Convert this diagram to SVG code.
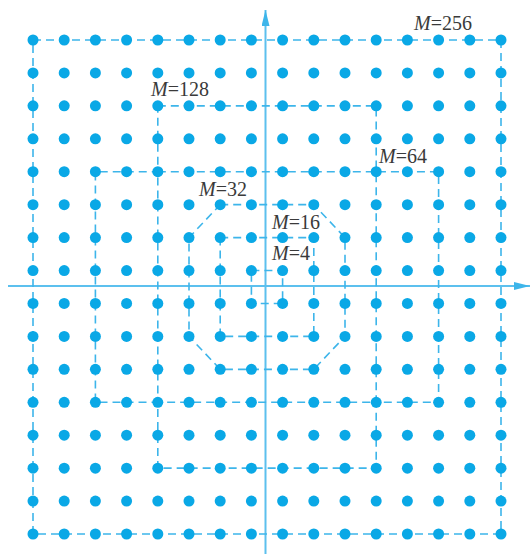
<svg xmlns="http://www.w3.org/2000/svg" xmlns:xlink="http://www.w3.org/1999/xlink" width="531" height="554" viewBox="0 0 531 554">
<style>
.dot{fill:#0aa8e6}
.bnd{fill:none;stroke:#3db5ea;stroke-width:1.6;stroke-dasharray:8 5}
.axis{stroke:#5cc0ee;stroke-width:2;fill:none}
.lbl{font-family:"Liberation Serif","Times New Roman",serif;font-size:20px;fill:#3a3a3a}
.it{font-style:italic}
</style>
<defs>
<marker id="arr" viewBox="0 0 16 8" refX="16" refY="4" markerWidth="16" markerHeight="8" markerUnits="userSpaceOnUse" orient="auto">
<path d="M0,0 L16,4 L0,8 Z" fill="#3db5ea"/>
</marker>
<g id="row">
<circle class="dot" cx="33" cy="0" r="5.5"/>
<circle class="dot" cx="64.2" cy="0" r="5.5"/>
<circle class="dot" cx="95.4" cy="0" r="5.5"/>
<circle class="dot" cx="126.6" cy="0" r="5.5"/>
<circle class="dot" cx="157.8" cy="0" r="5.5"/>
<circle class="dot" cx="189" cy="0" r="5.5"/>
<circle class="dot" cx="220.2" cy="0" r="5.5"/>
<circle class="dot" cx="251.4" cy="0" r="5.5"/>
<circle class="dot" cx="282.6" cy="0" r="5.5"/>
<circle class="dot" cx="313.8" cy="0" r="5.5"/>
<circle class="dot" cx="345" cy="0" r="5.5"/>
<circle class="dot" cx="376.2" cy="0" r="5.5"/>
<circle class="dot" cx="407.4" cy="0" r="5.5"/>
<circle class="dot" cx="438.6" cy="0" r="5.5"/>
<circle class="dot" cx="469.8" cy="0" r="5.5"/>
<circle class="dot" cx="501" cy="0" r="5.5"/>
</g>
</defs>
<rect width="531" height="554" fill="#ffffff"/>
<g id="connectors">
<line class="axis" x1="265.5" y1="554" x2="265.5" y2="10" marker-end="url(#arr)"/>
<line class="axis" x1="8" y1="286" x2="530" y2="286" marker-end="url(#arr)"/>
<path id="b256" class="bnd" d="M33,40 H501 V534 H33 Z"/>
<path id="b128" class="bnd" d="M157.8,105.87 H376.2 V171.73 H438.6 V402.27 H376.2 V468.13 H157.8 V402.27 H95.4 V171.73 H157.8 Z"/>
<path id="b64" class="bnd" d="M157.8,171.73 H376.2 V402.27 H157.8 Z"/>
<path id="b32" class="bnd" d="M220.2,204.67 H313.8 L345,237.6 V336.4 L313.8,369.33 H220.2 L189,336.4 V237.6 Z"/>
<path id="b16" class="bnd" d="M220.2,237.6 H313.8 V336.4 H220.2 Z"/>
<path id="b4" class="bnd" d="M251.4,270.53 H282.6 V303.47 H251.4 Z"/>
</g>
<g id="points">
<use xlink:href="#row" href="#row" y="40"/>
<use xlink:href="#row" href="#row" y="72.93"/>
<use xlink:href="#row" href="#row" y="105.87"/>
<use xlink:href="#row" href="#row" y="138.8"/>
<use xlink:href="#row" href="#row" y="171.73"/>
<use xlink:href="#row" href="#row" y="204.67"/>
<use xlink:href="#row" href="#row" y="237.6"/>
<use xlink:href="#row" href="#row" y="270.53"/>
<use xlink:href="#row" href="#row" y="303.47"/>
<use xlink:href="#row" href="#row" y="336.4"/>
<use xlink:href="#row" href="#row" y="369.33"/>
<use xlink:href="#row" href="#row" y="402.27"/>
<use xlink:href="#row" href="#row" y="435.2"/>
<use xlink:href="#row" href="#row" y="468.13"/>
<use xlink:href="#row" href="#row" y="501.07"/>
<use xlink:href="#row" href="#row" y="534"/>
</g>
<g id="labels">
<text class="lbl" x="414" y="30"><tspan class="it">M</tspan>=256</text>
<text class="lbl" x="151" y="96"><tspan class="it">M</tspan>=128</text>
<text class="lbl" x="379" y="163"><tspan class="it">M</tspan>=64</text>
<text class="lbl" x="199" y="196"><tspan class="it">M</tspan>=32</text>
<text class="lbl" x="272" y="229"><tspan class="it">M</tspan>=16</text>
<text class="lbl" x="272" y="260"><tspan class="it">M</tspan>=4</text>
</g>
</svg>
